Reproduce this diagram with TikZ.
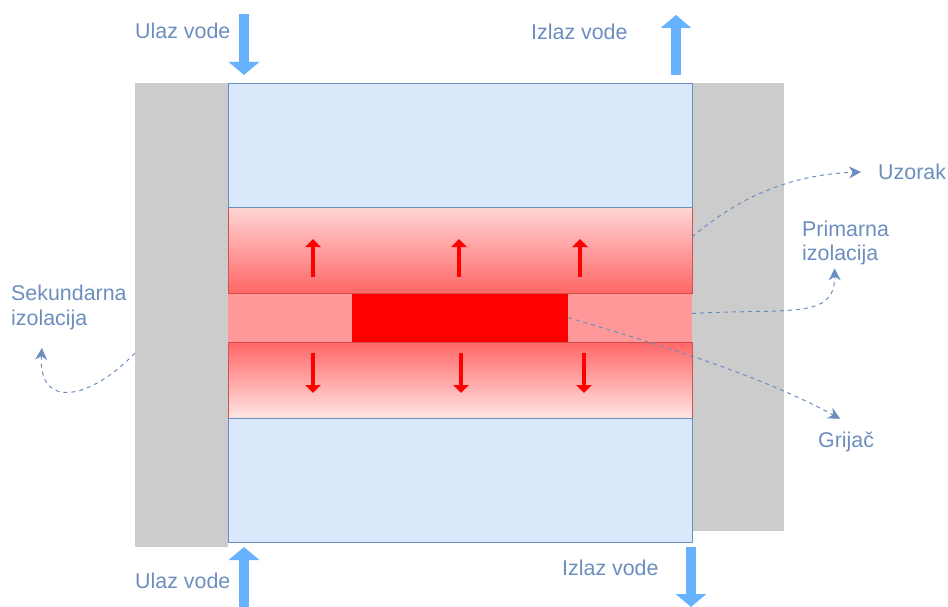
\documentclass[tikz,border=0pt]{standalone}
\usepackage{fontspec}
\setmainfont{Liberation Sans}
\usetikzlibrary{
    arrows.meta,
    positioning
}

\definecolor{labelblue}{HTML}{6C8EBF}
\definecolor{waterblue}{HTML}{66B2FF}
\definecolor{cellblue}{HTML}{DAE8FC}
\definecolor{insulgray}{HTML}{CCCCCC}
\definecolor{sampleedge}{HTML}{D05050}

\tikzset{
  block/.style={
    anchor=north west,
    inner sep=0pt,
    outer sep=0pt
  },
  insul/.style={block, fill=insulgray},
  water/.style={block, draw=labelblue, line width=0.9pt, fill=cellblue},
  sample/.style={block, draw=sampleedge, line width=0.7pt},
  label/.style={
    text=labelblue,
    inner sep=0pt,
    align=left,
    font=\fontsize{21.4}{24.5}\selectfont
  },
  flow/.style={
    draw=waterblue,
    line width=10pt,
    -{Triangle[width=30pt,length=13pt]}
  },
  heat/.style={
    draw=red,
    line width=3.6pt,
    -{Triangle[width=15pt,length=8pt]}
  },
  lead/.style={
    draw=labelblue,
    line width=1pt,
    dash pattern=on 4pt off 4pt,
    -{Stealth[width=12pt,length=12pt]}
  }
}

\begin{document}
\begin{tikzpicture}[x=1pt, y=-1pt]

  \useasboundingbox (0,0) rectangle (948,607);

  % insulation {{{
  \node[insul, minimum width=93pt, minimum height=464pt] (secleft) at (135,83) {};
  \node[insul, minimum width=92pt, minimum height=448pt] (secright) at (692,83) {};
  % }}}

  % heater layer {{{
  \node[block, fill=red!40, minimum width=464pt, minimum height=49pt] (primary) at (228,293) {};
  \node[block, fill=red, minimum width=216pt, minimum height=49pt] (heater) at (352,293) {};
  % }}}

  % sample and water {{{
  \node[sample, minimum width=464pt, minimum height=86pt,
    top color=red!16, bottom color=red!60] (sampletop) at (228,207) {};
  \node[sample, minimum width=464pt, minimum height=76pt,
    top color=red!60, bottom color=red!10] (samplebottom) at (228,342) {};
  \node[water, minimum width=464pt, minimum height=124pt] (watertop) at (228,83) {};
  \node[water, minimum width=464pt, minimum height=124pt] (waterbottom) at (228,418) {};
  % }}}

  % heat arrows {{{
  \foreach \xa/\xb in {313/313, 459/461, 580/584} {
    \coordinate (upa\xa) at (\xa,277);
    \coordinate (upb\xa) at (\xa,239);
    \coordinate (downa\xb) at (\xb,353);
    \coordinate (downb\xb) at (\xb,393);
    \draw[heat] (upa\xa) -- (upb\xa);
    \draw[heat] (downa\xb) -- (downb\xb);
  }
  % }}}

  % labels {{{
  \node[label, anchor=west] (intop) at (135,31) {Ulaz vode};
  \node[label, anchor=west] (outtop) at (531,32) {Izlaz vode};
  \node[label, anchor=west] (inbottom) at (135,581) {Ulaz vode};
  \node[label, anchor=west] (outbottom) at (562,568) {Izlaz vode};
  \node[label, anchor=west] (uzorak) at (878,172) {Uzorak};
  \node[label, anchor=west] (primlabel) at (802,243) {Primarna\\izolacija};
  \node[label, anchor=west] (seclabel) at (11,307.5) {Sekundarna\\izolacija};
  \node[label, anchor=west] (grijac) at (818,442) {Grijač};
  % }}}

  % water flow {{{
  \coordinate (inftop) at (244,14);
  \coordinate (intip) at (244,75);
  \coordinate (outftop) at (676,75);
  \coordinate (outtip) at (676,15);
  \coordinate (infbottom) at (244,607);
  \coordinate (inbtip) at (244,547);
  \coordinate (outfbottom) at (691,547);
  \coordinate (outbtip) at (691,607);
  \draw[flow] (inftop) -- (intip);
  \draw[flow] (outftop) -- (outtip);
  \draw[flow] (infbottom) -- (inbtip);
  \draw[flow] (outfbottom) -- (outbtip);
  % }}}

  % leaders {{{
  \draw[lead] ([yshift=13pt]sampletop.east)
    .. controls (730,205) and (780,175) .. ([xshift=-17pt]uzorak.west);
  \draw[lead] ([yshift=4pt]primary.east)
    .. controls (790,308) and (835,320) .. ([xshift=-11pt,yshift=-3pt]primlabel.south);
  \draw[lead] ([yshift=-38pt]secleft.east -| secleft.west)
    .. controls (90,400) and (38,410) .. ([xshift=-27pt,yshift=-18pt]seclabel.south);
  \draw[lead] (heater.east)
    .. controls (660,345) and (760,375) .. ([xshift=-6pt,yshift=13pt]grijac.north);
  % }}}

\end{tikzpicture}
\end{document}
